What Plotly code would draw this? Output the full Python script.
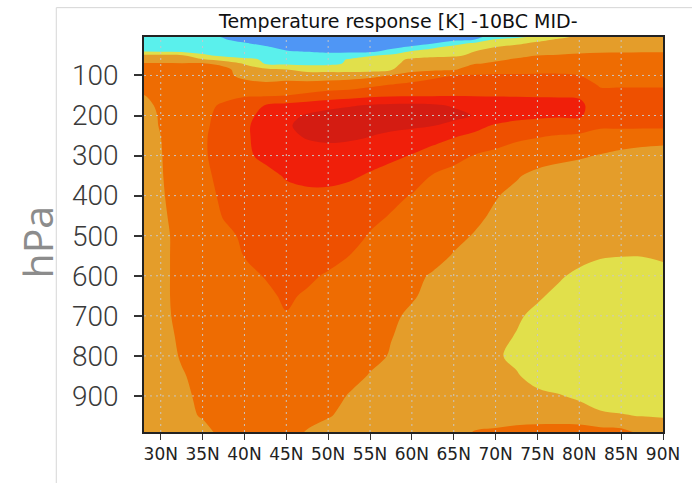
import plotly.graph_objects as go

# ---------------- data ----------------
lat_deg = [27.5, 30, 32.5, 35, 37.5, 40, 42.5, 45, 47.5, 50, 52.5, 55, 57.5,
           60, 62.5, 65, 67.5, 70, 72.5, 75, 77.5, 80, 82.5, 85, 87.5, 90]
lev_hpa = [0, 10, 20, 30, 40, 50, 60, 70, 85, 100, 125, 150, 175, 200, 225,
           250, 300, 350, 400, 450, 500, 550, 600, 650, 700, 750, 800, 850,
           900, 950, 1000]

# temperature response [K] on each pressure level (west -> east, 27.5N .. 90N)
dT_0000 = [-0.3, -0.3, -0.35, -0.45, -0.55, -0.7, -0.8, -0.9, -0.95, -1.0, -1.0, -1.0, -0.95, -0.9, -0.85, -0.75, -0.62, -0.4, -0.25, -0.05, 0.2, 0.5, 0.55, 0.55, 0.55, 0.55]
dT_0010 = [-0.3, -0.3, -0.3, -0.35, -0.47, -0.65, -0.75, -0.85, -0.9, -0.95, -0.95, -0.95, -0.9, -0.85, -0.77, -0.68, -0.52, 0.02, 0.15, 0.35, 0.55, 0.6, 0.62, 0.62, 0.62, 0.62]
dT_0020 = [-0.25, -0.25, -0.25, -0.28, -0.35, -0.46, -0.62, -0.76, -0.85, -0.9, -0.9, -0.87, -0.8, -0.68, -0.52, -0.15, 0.1, 0.25, 0.42, 0.6, 0.68, 0.7, 0.72, 0.72, 0.72, 0.72]
dT_0030 = [-0.15, -0.15, -0.18, -0.22, -0.27, -0.32, -0.43, -0.62, -0.72, -0.78, -0.78, -0.75, -0.6, -0.4, -0.05, 0.15, 0.35, 0.52, 0.65, 0.72, 0.78, 0.82, 0.84, 0.84, 0.84, 0.84]
dT_0040 = [-0.03, -0.04, -0.1, -0.15, -0.2, -0.25, -0.3, -0.46, -0.52, -0.6, -0.62, -0.6, -0.33, 0.05, 0.15, 0.3, 0.5, 0.65, 0.75, 0.82, 0.88, 0.93, 0.96, 0.97, 0.98, 0.98]
dT_0050 = [0.6, 0.6, 0.55, 0.08, -0.1, -0.2, -0.25, -0.3, -0.32, -0.3, -0.2, -0.05, 0.1, 0.35, 0.4, 0.42, 0.6, 0.8, 0.92, 1.0, 1.03, 1.06, 1.08, 1.08, 1.08, 1.08]
dT_0060 = [0.8, 0.8, 0.78, 0.52, 0.3, 0.1, -0.05, -0.15, -0.2, -0.15, 0.03, 0.2, 0.4, 0.55, 0.62, 0.7, 0.82, 0.95, 1.03, 1.1, 1.12, 1.14, 1.15, 1.15, 1.15, 1.15]
dT_0070 = [1.02, 1.02, 1.01, 1.02, 0.85, 0.45, -0.05, -0.12, -0.15, -0.1, 0.05, 0.2, 0.38, 0.65, 0.75, 0.82, 0.97, 1.05, 1.15, 1.2, 1.22, 1.22, 1.22, 1.22, 1.22, 1.22]
dT_0085 = [1.15, 1.15, 1.12, 1.1, 1.15, 0.75, 0.6, 0.5, 0.35, 0.3, 0.28, 0.3, 0.45, 0.85, 0.9, 0.95, 1.25, 1.35, 1.35, 1.38, 1.38, 1.35, 1.3, 1.3, 1.3, 1.3]
dT_0100 = [1.25, 1.25, 1.22, 1.2, 1.1, 0.9, 0.82, 0.78, 0.72, 0.75, 0.78, 0.85, 1.03, 1.2, 1.38, 1.5, 1.53, 1.55, 1.55, 1.55, 1.55, 1.5, 1.37, 1.37, 1.37, 1.37]
dT_0125 = [1.3, 1.3, 1.3, 1.28, 1.25, 1.15, 1.1, 1.2, 1.2, 1.25, 1.3, 1.42, 1.55, 1.65, 1.72, 1.78, 1.8, 1.8, 1.8, 1.78, 1.75, 1.72, 1.47, 1.47, 1.47, 1.47]
dT_0150 = [0.95, 1.15, 1.25, 1.3, 1.4, 1.45, 1.45, 1.5, 1.6, 1.72, 1.78, 1.88, 1.93, 1.95, 1.96, 1.97, 1.97, 1.97, 1.97, 1.97, 1.97, 1.95, 1.62, 1.62, 1.62, 1.62]
dT_0175 = [0.9, 1.05, 1.25, 1.4, 1.55, 1.8, 2.02, 2.15, 2.25, 2.35, 2.45, 2.55, 2.6, 2.62, 2.58, 2.45, 2.35, 2.25, 2.2, 2.15, 2.12, 2.1, 1.75, 1.75, 1.75, 1.75]
dT_0200 = [0.85, 1.03, 1.25, 1.42, 1.6, 1.85, 2.15, 2.35, 2.55, 2.7, 2.8, 2.85, 2.85, 2.8, 2.75, 2.65, 2.47, 2.3, 2.15, 2.1, 2.05, 2.05, 1.78, 1.78, 1.78, 1.78]
dT_0225 = [0.85, 1.02, 1.25, 1.42, 1.65, 1.92, 2.2, 2.45, 2.62, 2.72, 2.75, 2.72, 2.65, 2.6, 2.52, 2.35, 2.15, 1.95, 1.85, 1.8, 1.8, 1.85, 1.6, 1.6, 1.6, 1.6]
dT_0250 = [0.85, 1.0, 1.25, 1.45, 1.65, 1.92, 2.2, 2.4, 2.55, 2.62, 2.6, 2.52, 2.4, 2.3, 2.2, 2.05, 1.92, 1.8, 1.62, 1.55, 1.48, 1.42, 1.3, 1.3, 1.27, 1.25]
dT_0300 = [0.85, 0.98, 1.25, 1.45, 1.65, 1.9, 2.12, 2.25, 2.3, 2.3, 2.25, 2.2, 2.1, 1.98, 1.8, 1.62, 1.48, 1.35, 1.25, 1.15, 1.1, 1.05, 0.98, 0.88, 0.8, 0.75]
dT_0350 = [0.85, 0.97, 1.22, 1.42, 1.6, 1.72, 1.85, 2.05, 2.15, 2.15, 2.08, 1.95, 1.82, 1.7, 1.48, 1.38, 1.25, 1.12, 1.03, 0.92, 0.85, 0.8, 0.75, 0.72, 0.7, 0.7]
dT_0400 = [0.85, 0.95, 1.2, 1.4, 1.55, 1.68, 1.78, 1.85, 1.88, 1.88, 1.82, 1.72, 1.6, 1.48, 1.35, 1.22, 1.12, 1.02, 0.92, 0.85, 0.8, 0.75, 0.7, 0.68, 0.67, 0.65]
dT_0450 = [0.85, 0.93, 1.15, 1.3, 1.52, 1.65, 1.75, 1.8, 1.82, 1.8, 1.72, 1.6, 1.48, 1.38, 1.28, 1.18, 1.07, 0.95, 0.85, 0.78, 0.72, 0.68, 0.64, 0.62, 0.6, 0.6]
dT_0500 = [0.85, 0.92, 1.1, 1.25, 1.42, 1.55, 1.65, 1.72, 1.75, 1.72, 1.65, 1.47, 1.38, 1.28, 1.18, 1.08, 0.98, 0.88, 0.8, 0.72, 0.65, 0.6, 0.57, 0.56, 0.55, 0.55]
dT_0550 = [0.85, 0.92, 1.1, 1.22, 1.35, 1.51, 1.6, 1.68, 1.7, 1.65, 1.5, 1.38, 1.28, 1.18, 1.1, 0.98, 0.88, 0.78, 0.7, 0.65, 0.6, 0.57, 0.53, 0.51, 0.51, 0.58]
dT_0600 = [0.85, 0.92, 1.1, 1.2, 1.3, 1.4, 1.52, 1.6, 1.58, 1.45, 1.35, 1.25, 1.15, 1.07, 0.97, 0.85, 0.75, 0.68, 0.62, 0.58, 0.53, 0.45, 0.35, 0.3, 0.3, 0.32]
dT_0650 = [0.85, 0.92, 1.1, 1.18, 1.25, 1.32, 1.42, 1.56, 1.45, 1.38, 1.3, 1.2, 1.12, 1.03, 0.92, 0.82, 0.72, 0.65, 0.58, 0.53, 0.45, 0.35, 0.28, 0.25, 0.25, 0.27]
dT_0700 = [0.85, 0.92, 1.08, 1.15, 1.22, 1.3, 1.38, 1.48, 1.4, 1.32, 1.25, 1.15, 1.05, 0.95, 0.85, 0.75, 0.67, 0.6, 0.53, 0.45, 0.35, 0.28, 0.22, 0.2, 0.2, 0.2]
dT_0750 = [0.85, 0.9, 1.05, 1.12, 1.2, 1.27, 1.33, 1.36, 1.35, 1.3, 1.22, 1.13, 1.01, 0.93, 0.83, 0.73, 0.63, 0.56, 0.49, 0.38, 0.3, 0.22, 0.18, 0.17, 0.17, 0.18]
dT_0800 = [0.85, 0.9, 1.02, 1.1, 1.17, 1.22, 1.27, 1.3, 1.3, 1.25, 1.17, 1.08, 0.98, 0.88, 0.78, 0.68, 0.6, 0.53, 0.45, 0.38, 0.3, 0.23, 0.18, 0.17, 0.17, 0.18]
dT_0850 = [0.85, 0.88, 0.98, 1.07, 1.13, 1.18, 1.22, 1.25, 1.23, 1.18, 1.1, 0.98, 0.9, 0.82, 0.75, 0.68, 0.62, 0.57, 0.52, 0.42, 0.33, 0.27, 0.22, 0.22, 0.22, 0.23]
dT_0900 = [0.85, 0.88, 0.95, 1.05, 1.1, 1.15, 1.18, 1.2, 1.18, 1.12, 0.98, 0.9, 0.82, 0.75, 0.7, 0.66, 0.62, 0.6, 0.58, 0.55, 0.52, 0.45, 0.37, 0.35, 0.35, 0.35]
dT_0950 = [0.85, 0.88, 0.93, 1.02, 1.08, 1.12, 1.15, 1.15, 1.1, 1.02, 0.92, 0.85, 0.78, 0.73, 0.7, 0.68, 0.68, 0.7, 0.72, 0.72, 0.7, 0.65, 0.55, 0.52, 0.49, 0.48]
dT_1000 = [0.85, 0.88, 0.9, 0.9, 1.05, 1.1, 1.12, 1.1, 0.95, 0.85, 0.8, 0.76, 0.72, 0.7, 0.7, 0.75, 1.12, 1.2, 1.33, 1.39, 1.44, 1.47, 1.35, 1.3, 1.0, 0.7]

x_tickvals = [30, 35, 40, 45, 50, 55, 60, 65, 70, 75, 80, 85, 90]
x_ticktext = ["30N", "35N", "40N", "45N", "50N", "55N", "60N", "65N",
              "70N", "75N", "80N", "85N", "90N"]
y_tickvals = [100, 200, 300, 400, 500, 600, 700, 800, 900]
y_ticktext = ["100", "200", "300", "400", "500", "600", "700", "800", "900"]

# contour levels [K] and shading colours (lowest band first)
level_start, level_end, level_step = -0.5, 2.5, 0.5
band_colors = ["#4f96f5", "#5af0ec", "#e1e04b", "#e49d2a",
               "#ee6c02", "#ee5000", "#f01f0a", "#d41c12"]

title_text = "Temperature response [K] -10BC MID-"

# ---------------- figure ----------------
z = [dT_0000, dT_0010, dT_0020, dT_0030, dT_0040, dT_0050, dT_0060, dT_0070,
     dT_0085, dT_0100, dT_0125, dT_0150, dT_0175, dT_0200, dT_0225, dT_0250,
     dT_0300, dT_0350, dT_0400, dT_0450, dT_0500, dT_0550, dT_0600, dT_0650,
     dT_0700, dT_0750, dT_0800, dT_0850, dT_0900, dT_0950, dT_1000]

nb = len(band_colors)
cscale = []
for k, c in enumerate(band_colors):
    lo = max(0.0, (k - 0.5) / (nb - 1))
    hi = min(1.0, (k + 0.5) / (nb - 1))
    cscale.append([lo, c])
    cscale.append([hi, c])

fig = go.Figure(go.Contour(
    x=lat_deg, y=lev_hpa, z=z,
    contours=dict(start=level_start, end=level_end, size=level_step,
                  coloring="fill", showlines=False),
    line=dict(width=0),
    colorscale=cscale, showscale=False, hoverinfo="skip",
))

# dotted grid drawn over the shading
shapes = []
grid_style = dict(color="rgba(200,200,200,0.95)", width=1, dash="2px,4px")
for xv in x_tickvals[:-1]:
    shapes.append(dict(type="line", xref="x", yref="paper", x0=xv, x1=xv,
                       y0=0, y1=1, line=grid_style, layer="above"))
for yv in y_tickvals:
    shapes.append(dict(type="line", xref="paper", yref="y", x0=0, x1=1,
                       y0=yv, y1=yv, line=grid_style, layer="above"))
# light page frame of the original slide
frame = dict(color="#d6d6d6", width=1)
shapes.append(dict(type="line", xref="paper", yref="paper", x0=-0.169, x1=1.06,
                   y0=1.0743, y1=1.0743, line=frame))
shapes.append(dict(type="line", xref="paper", yref="paper", x0=-0.169, x1=-0.169,
                   y0=1.0743, y1=-0.14, line=frame))

fig.update_layout(
    width=692, height=483,
    margin=dict(l=144, r=27, t=37, b=51),
    paper_bgcolor="white", plot_bgcolor="white",
    showlegend=False,
    shapes=shapes,
    annotations=[
        dict(text=title_text, xref="paper", yref="paper", x=0.489, y=1.04,
             xanchor="center", yanchor="middle", showarrow=False,
             font=dict(family="DejaVu Sans", size=19, color="#111111")),
        dict(text="hPa", xref="paper", yref="paper", x=-0.206, y=0.48,
             xanchor="center", yanchor="middle", showarrow=False, textangle=-90,
             font=dict(family="Open Sans", size=41, color="#8c8c8c")),
    ],
)
fig.update_xaxes(
    range=[28, 90], tickvals=x_tickvals, ticktext=x_ticktext,
    ticks="outside", ticklen=6, tickwidth=1.3, tickcolor="#333333",
    showline=True, linecolor="#222222", linewidth=1.5, mirror=True,
    showgrid=False, zeroline=False,
    tickfont=dict(family="DejaVu Sans", size=17, color="#222222"),
)
fig.update_yaxes(
    range=[990, 4], tickvals=y_tickvals, ticktext=y_ticktext,
    ticks="outside", ticklen=8, tickwidth=1.5, tickcolor="#333333",
    showline=True, linecolor="#222222", linewidth=1.5, mirror=True,
    showgrid=False, zeroline=False, ticklabelstandoff=10,
    tickfont=dict(family="Roboto", size=28, color="#3a3a3a", weight=300),
)

fig.write_html("out.html")
